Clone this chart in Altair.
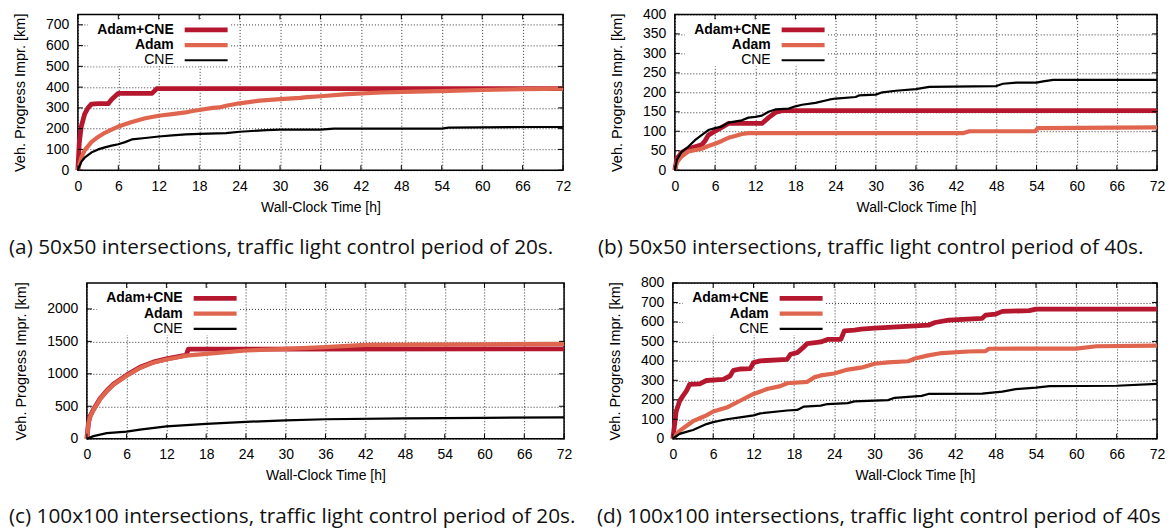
import altair as alt
import pandas as pd

SERIES = ["Adam+CNE", "Adam", "CNE"]
COLORS = {"Adam+CNE": "#b5172e", "Adam": "#df654e", "CNE": "#000000"}
WIDTHS = {"Adam+CNE": 4.8, "Adam": 4.2, "CNE": 2.2}
WEIGHTS = {"Adam+CNE": "bold", "Adam": "bold", "CNE": "normal"}
X_TICKS = list(range(0, 73, 6))

# ---------------- panel (a) ----------------
a_cne_adam_t = [0, 0.2, 0.5, 1, 1.5, 2, 3, 4.5, 5, 6, 11, 11.7, 72]
a_cne_adam_v = [0, 130, 210, 270, 300, 318, 320, 320, 340, 370, 370, 393, 393]
a_adam_t = [0, 0.5, 1, 2, 3, 4, 5, 6, 8, 10, 12, 14, 16, 17, 18, 20, 21, 22, 24, 27, 30, 33, 34, 36, 40, 45, 50, 55, 60, 66, 72]
a_adam_v = [0, 60, 95, 135, 160, 180, 195, 210, 232, 250, 262, 270, 278, 285, 290, 300, 302, 310, 322, 335, 342, 348, 352, 356, 366, 374, 378, 382, 386, 390, 393]
a_cne_t = [0, 0.5, 1, 2, 3, 4, 5, 6, 7, 8, 10, 12, 14, 16, 18, 22, 24, 28, 30, 36, 38, 54, 55, 66, 72]
a_cne_v = [0, 40, 60, 85, 100, 110, 118, 125, 135, 148, 155, 162, 168, 172, 175, 178, 185, 193, 195, 195, 200, 200, 205, 208, 208]
a_y_ticks = [0, 100, 200, 300, 400, 500, 600, 700]

# ---------------- panel (b) ----------------
b_cne_adam_t = [0, 0.3, 1, 2, 3, 4, 4.5, 5, 6, 7, 8, 13, 14, 15, 16, 72]
b_cne_adam_v = [0, 30, 45, 55, 60, 65, 75, 90, 100, 110, 120, 120, 135, 148, 153, 153]
b_adam_t = [0, 0.3, 1, 2, 4, 5, 6, 7, 8, 9, 10, 11, 43, 44, 53.8, 54.2, 72]
b_adam_v = [0, 20, 35, 48, 55, 62, 68, 75, 83, 88, 93, 95, 95, 100, 100, 108, 110]
b_cne_t = [0, 0.3, 1, 2, 3, 4, 5, 6, 7, 8, 10, 11, 12, 13, 14, 15, 17, 18, 19, 21, 23, 24, 27, 27.5, 30, 31, 33, 36, 38, 48, 49, 51, 54, 55, 56.5, 72]
b_cne_v = [0, 26, 47, 60, 77, 90, 103, 108, 112, 122, 128, 135, 137, 140, 150, 156, 158, 164, 168, 173, 181, 184, 188, 192, 194, 200, 204, 208, 214, 216, 222, 225, 225, 228, 232, 232]
b_y_ticks = [0, 50, 100, 150, 200, 250, 300, 350, 400]

# ---------------- panel (c) ----------------
c_cne_adam_t = [0, 0.25, 0.5, 1, 2, 3, 4, 5, 6, 8, 10, 12, 14, 15, 15.3, 72]
c_cne_adam_v = [0, 250, 350, 450, 620, 740, 840, 910, 980, 1100, 1180, 1230, 1270, 1290, 1380, 1385]
c_adam_t = [0, 0.25, 0.5, 1, 2, 3, 4, 5, 6, 8, 10, 12, 14, 15, 18, 24, 30, 36, 42, 48, 60, 72]
c_adam_v = [0, 240, 340, 440, 610, 730, 830, 900, 970, 1090, 1170, 1220, 1260, 1280, 1308, 1359, 1385, 1410, 1446, 1450, 1455, 1460]
c_cne_t = [0, 1, 3, 6, 8, 12, 18, 24, 30, 36, 48, 60, 72]
c_cne_v = [0, 40, 85, 110, 140, 190, 230, 260, 282, 300, 312, 322, 330]
c_y_ticks = [0, 500, 1000, 1500, 2000]

# ---------------- panel (d) ----------------
d_cne_adam_t = [0, 0.5, 1, 1.5, 2, 2.5, 4, 5, 7.5, 8.5, 9, 10, 11.5, 12, 13, 17, 17.5, 18.5, 19.5, 20, 22, 23, 25, 25.5, 27, 28, 30, 38, 39, 41, 46, 46.5, 48, 49, 53, 54, 72]
d_cne_adam_v = [0, 141, 193, 220, 244, 279, 282, 299, 305, 322, 351, 358, 360, 391, 400, 408, 434, 442, 472, 489, 497, 510, 511, 554, 558, 563, 568, 583, 597, 609, 618, 635, 640, 654, 658, 666, 666]
d_adam_t = [0, 1, 2, 3, 4, 5, 6, 8, 10, 12, 14, 16, 17, 20, 21, 22, 24, 26, 28, 30, 32, 35, 36, 38, 40, 44, 46.5, 47, 60, 63, 72]
d_adam_v = [0, 40, 65, 90, 105, 120, 140, 160, 195, 230, 255, 270, 285, 292, 315, 325, 335, 355, 365, 385, 392, 398, 412, 428, 440, 448, 450, 462, 463, 475, 478]
d_cne_t = [0, 1, 2, 3, 5, 6, 8, 10, 12, 13, 17, 18.5, 19.5, 22, 23, 26, 27, 32, 33, 37, 38, 46, 49, 51, 54, 56, 66, 72]
d_cne_v = [0, 25, 35, 45, 75, 85, 100, 110, 120, 130, 145, 148, 165, 170, 178, 183, 192, 198, 210, 220, 230, 232, 242, 255, 262, 270, 272, 282]
d_y_ticks = [0, 100, 200, 300, 400, 500, 600, 700, 800]

CAPTIONS = [
    "(a) 50x50 intersections, traffic light control period of 20s.",
    "(b) 50x50 intersections, traffic light control period of 40s.",
    "(c) 100x100 intersections, traffic light control period of 20s.",
    "(d) 100x100 intersections, traffic light control period of 40s",
]

FONT = "Liberation Sans"
CAP_FONT = "Open Sans"


def make_panel(series, y_max, y_ticks, w, h, caption, cap_x, title_pad):
    xs = alt.Scale(domain=[0, 72], nice=False, zero=False)
    ys = alt.Scale(domain=[0, y_max], nice=False)
    x_axis = alt.Axis(values=X_TICKS, title="Wall-Clock Time [h]", grid=True,
                      ticks=False, tickSize=0, domain=False, labelPadding=9,
                      titlePadding=7, labelFlush=False, labelOverlap=False,
                      format="d")
    y_axis = alt.Axis(values=y_ticks, title="Veh. Progress Impr. [km]", grid=True,
                      ticks=False, tickSize=0, domain=False, labelPadding=9,
                      titlePadding=title_pad, titleFontSize=14.5,
                      labelFlush=False, labelOverlap=False, format="d")
    xenc = alt.X("t:Q", scale=xs, axis=x_axis)
    yenc = alt.Y("v:Q", scale=ys, axis=y_axis)

    one = alt.Data(values=[{"k": 1}])
    layers = []
    # white legend box
    layers.append(alt.Chart(one).mark_rect(color="white").encode(
        x=alt.value(10), x2=alt.value(152), y=alt.value(6), y2=alt.value(52)))
    # data lines
    for name in SERIES:
        t, v = series[name]
        df = pd.DataFrame({"t": t, "v": v})
        layers.append(alt.Chart(df).mark_line(
            color=COLORS[name], strokeWidth=WIDTHS[name], strokeJoin="round",
            strokeCap="butt").encode(x=xenc, y=yenc))
    # inward tick marks
    xt = pd.DataFrame({"t": X_TICKS})
    layers.append(alt.Chart(xt).mark_rule(color="black", strokeWidth=1).encode(
        x=xenc, y=alt.value(h), y2=alt.value(h - 5)))
    layers.append(alt.Chart(xt).mark_rule(color="black", strokeWidth=1).encode(
        x=xenc, y=alt.value(0), y2=alt.value(5)))
    yt = pd.DataFrame({"v": y_ticks})
    layers.append(alt.Chart(yt).mark_rule(color="black", strokeWidth=1).encode(
        y=yenc, x=alt.value(0), x2=alt.value(5)))
    layers.append(alt.Chart(yt).mark_rule(color="black", strokeWidth=1).encode(
        y=yenc, x=alt.value(w - 5), x2=alt.value(w)))
    # legend entries
    for i, name in enumerate(SERIES):
        ly = 15.5 + 15.2 * i
        layers.append(alt.Chart(one).mark_text(
            text=name, align="right", baseline="middle", font=FONT, fontSize=14,
            fontWeight=WEIGHTS[name], color="black").encode(
            x=alt.value(96), y=alt.value(ly)))
        layers.append(alt.Chart(one).mark_rule(
            color=COLORS[name], strokeWidth=WIDTHS[name], strokeCap="butt").encode(
            x=alt.value(107), x2=alt.value(150), y=alt.value(ly)))
    # caption
    layers.append(alt.Chart(one).mark_text(
        text=caption, align="left", baseline="middle", font=CAP_FONT, fontSize=20.8,
        color="#111111").encode(x=alt.value(cap_x), y=alt.value(h + 78)))
    return alt.layer(*layers).properties(width=w, height=h)


def series_of(t1, v1, t2, v2, t3, v3):
    return {"Adam+CNE": (t1, v1), "Adam": (t2, v2), "CNE": (t3, v3)}


H = 156
pa = make_panel(series_of(a_cne_adam_t, a_cne_adam_v, a_adam_t, a_adam_v, a_cne_t, a_cne_v),
                750, a_y_ticks, 486, H, CAPTIONS[0], -69, 18)
pb = make_panel(series_of(b_cne_adam_t, b_cne_adam_v, b_adam_t, b_adam_v, b_cne_t, b_cne_v),
                400, b_y_ticks, 483, H, CAPTIONS[1], -77, 18)
pc = make_panel(series_of(c_cne_adam_t, c_cne_adam_v, c_adam_t, c_adam_v, c_cne_t, c_cne_v),
                2400, c_y_ticks, 478, H, CAPTIONS[2], -78, 18)
pd_ = make_panel(series_of(d_cne_adam_t, d_cne_adam_v, d_adam_t, d_adam_v, d_cne_t, d_cne_v),
                 800, d_y_ticks, 485, H, CAPTIONS[3], -76, 18)

spacer = alt.Chart(alt.Data(values=[{"k": 1}])).mark_point(opacity=0).encode(
    x=alt.value(0), y=alt.value(0)).properties(
    width=1, height=1, view=alt.ViewBackground(strokeOpacity=0))

row1 = alt.hconcat(pa, pb, spacing=112, bounds="flush")
row2 = alt.hconcat(spacer, alt.hconcat(pc, pd_, spacing=109, bounds="flush"),
                   spacing=8, bounds="flush")

# nested concat groups count as zero height in a flush layout,
# so the row gap is plot height + visual gap
chart = alt.vconcat(row1, row2, spacing=H + 113, bounds="flush").properties(
    padding={"left": 0, "top": -2, "right": 0, "bottom": 0}
).configure_axis(
    labelFont=FONT, titleFont=FONT, labelFontSize=14, titleFontSize=14,
    labelColor="black", titleColor="black", titleFontWeight="normal",
    gridColor="black", gridDash=[1, 2], gridOpacity=0.8, gridWidth=1,
).configure_view(stroke="black", strokeWidth=1.5)

chart.save("out.html", embed_options={"renderer": "svg", "actions": False})
